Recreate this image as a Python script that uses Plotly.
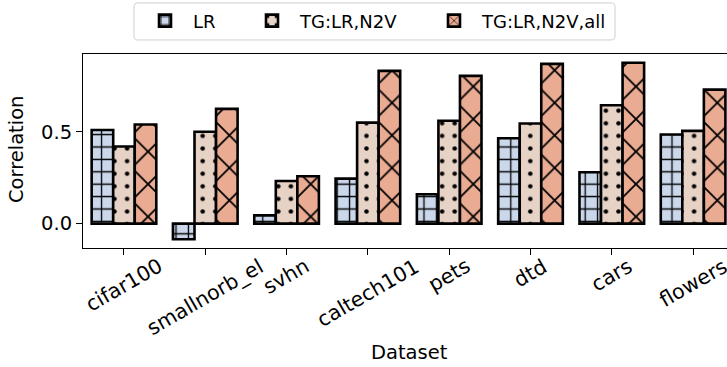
import plotly.graph_objects as go

# values
datasets = ["cifar100", "smallnorb_el", "svhn", "caltech101", "pets", "dtd", "cars", "flowers"]
lr = [0.51, -0.085, 0.045, 0.245, 0.16, 0.465, 0.28, 0.485]
tg_n2v = [0.42, 0.50, 0.232, 0.55, 0.56, 0.545, 0.645, 0.505]
tg_all = [0.54, 0.625, 0.258, 0.832, 0.805, 0.87, 0.876, 0.73]

series_names = ["LR", "TG:LR,N2V", "TG:LR,N2V,all"]
ytick_vals = [0.0, 0.5]
ytick_text = ["0.0", "0.5"]

C_LR = "#cbd7eb"
C_N2V = "#e7d2c6"
C_ALL = "#eaab93"
FONT = "DejaVu Sans"

W = 0.265
x = list(range(len(datasets)))

# plot area in pixels: left 83, top 54, width 644, height 193.7
def px_x(p):
    return (p - 83) / 644.0

def px_y(p):
    return 1 + (54 - p) / 193.7

fig = go.Figure()

styles = [
    (lr, C_LR, "+", 12.4, 0.2),
    (tg_n2v, C_N2V, ".", 12.6, 0.1),
    (tg_all, C_ALL, "x", 23, 0.15),
]
legend_ids = ["legend", "legend2", "legend3"]
for k, (vals, col, shape, size, sol) in enumerate(styles):
    fig.add_trace(go.Bar(
        x=x,
        y=vals,
        name=series_names[k],
        legend=legend_ids[k],
        width=W,
        offset=-1.5 * W + k * W,
        marker=dict(
            color=col,
            line=dict(color="black", width=2.6),
            pattern=dict(shape=shape, size=size, solidity=sol,
                         fgcolor="black", fgopacity=1, bgcolor=col,
                         fillmode="overlay"),
        ),
    ))

# rotated tick labels, centred on the ticks like matplotlib
for i, name in enumerate(datasets):
    fig.add_annotation(
        x=i, y=0, xref="x", yref="paper",
        text=name, showarrow=False, textangle=-30,
        xanchor="center", yanchor="top", yshift=-3,
        font=dict(family=FONT, size=20.5, color="black"),
    )

fig.add_annotation(
    x=px_x(409), y=-0.537, xref="paper", yref="paper",
    text="Dataset", showarrow=False, xanchor="center", yanchor="middle",
    font=dict(family=FONT, size=19.5, color="black"),
)
fig.add_annotation(
    x=px_x(16), y=0.51, xref="paper", yref="paper",
    text="Correlation", showarrow=False, textangle=-90,
    xanchor="center", yanchor="middle",
    font=dict(family=FONT, size=19.5, color="black"),
)

fig.update_xaxes(
    range=[-0.504, 7.417],
    tickvals=x, showticklabels=False,
    ticks="outside", ticklen=6, tickwidth=1, tickcolor="black",
    showline=True, linecolor="black", linewidth=1, mirror=True,
    showgrid=False, zeroline=False,
)
fig.update_yaxes(
    range=[-0.133, 0.924],
    tickvals=ytick_vals, ticktext=ytick_text,
    ticks="outside", ticklen=6, tickwidth=1, tickcolor="black",
    showline=True, linecolor="black", linewidth=1,
    showgrid=False, zeroline=False,
    tickfont=dict(family=FONT, size=19.5, color="black"),
)

# one legend per series so the entries can sit where matplotlib put them
leg_common = dict(
    orientation="h", xanchor="left", yanchor="middle", y=px_y(21),
    borderwidth=0, bgcolor="rgba(0,0,0,0)", itemwidth=46,
    font=dict(family=FONT, size=18, color="black"),
)
text_starts = [193, 300, 482]
fig.update_layout(
    legend=dict(x=px_x(text_starts[0] - 56), **leg_common),
    legend2=dict(x=px_x(text_starts[1] - 56), **leg_common),
    legend3=dict(x=px_x(text_starts[2] - 56), **leg_common),
)

# shared rounded legend frame
x0, x1 = px_x(134), px_x(615)
y0, y1 = px_y(40), px_y(3)
rx, ry = 4 / 644.0, 4 / 193.7
frame = (f"M{x0 + rx},{y0} L{x1 - rx},{y0} Q{x1},{y0} {x1},{y0 + ry} "
         f"L{x1},{y1 - ry} Q{x1},{y1} {x1 - rx},{y1} L{x0 + rx},{y1} "
         f"Q{x0},{y1} {x0},{y1 - ry} L{x0},{y0 + ry} Q{x0},{y0} {x0 + rx},{y0} Z")
fig.add_shape(type="path", path=frame, xref="paper", yref="paper",
              line=dict(color="#d0d0d0", width=1), fillcolor="rgba(0,0,0,0)")

fig.update_layout(
    width=727, height=367,
    margin=dict(l=83, r=0, t=54, b=119),
    barmode="overlay",
    plot_bgcolor="white",
    paper_bgcolor="white",
    font=dict(family=FONT, color="black"),
    showlegend=True,
)

# drop the browser's default body margin so the figure sits at the page corner
fig.write_html("out.html", config={"displayModeBar": False},
               post_script="document.body.style.margin='0';")
